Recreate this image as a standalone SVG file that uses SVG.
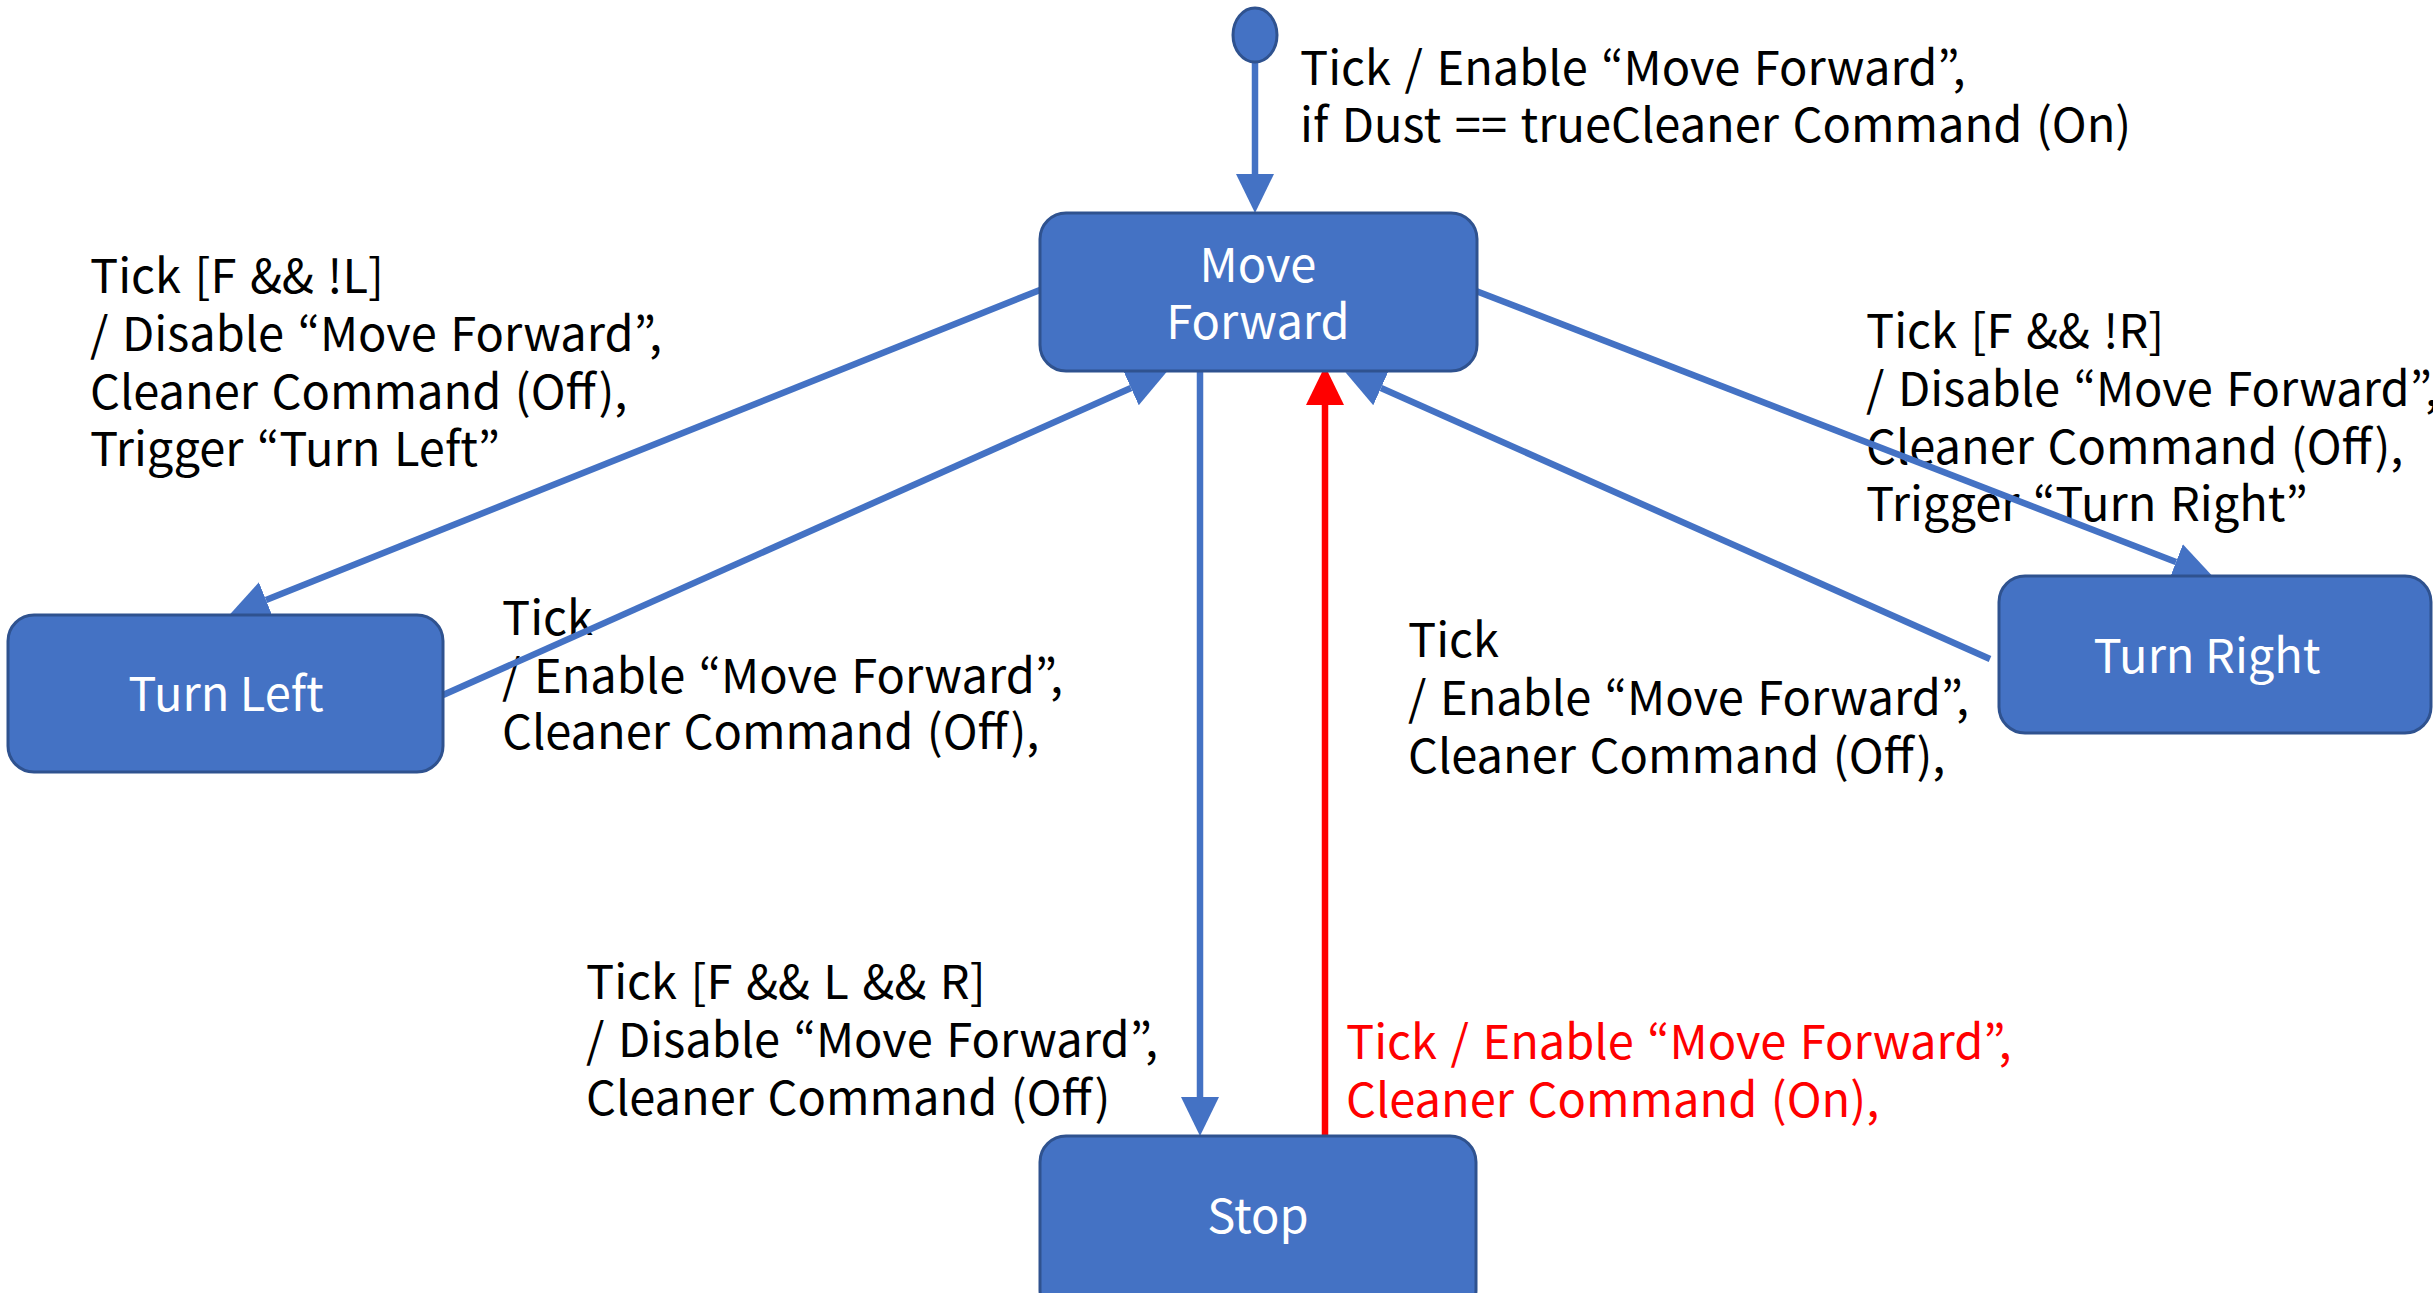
<svg xmlns="http://www.w3.org/2000/svg" width="2433" height="1293" viewBox="0 0 2433 1293">
<style>
.lbl{font-family:"Noto Sans CJK KR","Noto Sans",sans-serif;font-size:47px;word-spacing:3px;fill:#000}
.red{fill:#FF0000}
.node rect,.node ellipse{fill:#4472C4;stroke:#2F528F;stroke-width:3}
.ntxt{font-family:"Noto Sans CJK KR","Noto Sans",sans-serif;font-size:47px;fill:#fff;text-anchor:middle}
.edge{stroke:#4472C4;stroke-width:6.5;fill:none}
.edge.r{stroke:#FF0000}
</style>
<defs>
<marker id="ab" markerUnits="userSpaceOnUse" viewBox="0 -20 40 40" markerWidth="40" markerHeight="40" refX="0" refY="0" orient="auto"><path d="M0,-19 L39,0 L0,19 z" fill="#4472C4"/></marker>
<marker id="ar" markerUnits="userSpaceOnUse" viewBox="0 -20 40 40" markerWidth="40" markerHeight="40" refX="0" refY="0" orient="auto"><path d="M0,-19 L39,0 L0,19 z" fill="#FF0000"/></marker>
</defs>
<g id="labels">
<text class="lbl"><tspan x="1300" y="85">Tick / Enable “Move Forward”,</tspan><tspan x="1300" y="142">if Dust == trueCleaner Command (On)</tspan></text>
<text class="lbl"><tspan x="90" y="293">Tick [F &amp;&amp; !L]</tspan><tspan x="90" y="351">/ Disable “Move Forward”,</tspan><tspan x="90" y="409">Cleaner Command (Off),</tspan><tspan x="90" y="466">Trigger “Turn Left”</tspan></text>
<text class="lbl"><tspan x="502" y="635">Tick</tspan><tspan x="502" y="693">/ Enable “Move Forward”,</tspan><tspan x="502" y="749">Cleaner Command (Off),</tspan></text>
<text class="lbl"><tspan x="1866" y="348">Tick [F &amp;&amp; !R]</tspan><tspan x="1866" y="406">/ Disable “Move Forward”,</tspan><tspan x="1866" y="464">Cleaner Command (Off),</tspan><tspan x="1866" y="521">Trigger “Turn Right”</tspan></text>
<text class="lbl"><tspan x="1408" y="657">Tick</tspan><tspan x="1408" y="715">/ Enable “Move Forward”,</tspan><tspan x="1408" y="773">Cleaner Command (Off),</tspan></text>
<text class="lbl"><tspan x="586" y="999">Tick [F &amp;&amp; L &amp;&amp; R]</tspan><tspan x="586" y="1057">/ Disable “Move Forward”,</tspan><tspan x="586" y="1115">Cleaner Command (Off)</tspan></text>
<text class="lbl red"><tspan x="1346" y="1059">Tick / Enable “Move Forward”,</tspan><tspan x="1346" y="1117">Cleaner Command (On),</tspan></text>
</g>
<g id="connectors">
<path class="edge" d="M1255,62 L1255,174" marker-end="url(#ab)"/>
<path class="edge" d="M1040,290 L266,600" marker-end="url(#ab)"/>
<path class="edge" d="M443,695 L1131,388" marker-end="url(#ab)"/>
<path class="edge" d="M1476,291 L2176,562" marker-end="url(#ab)"/>
<path class="edge" d="M1990,659 L1381,388" marker-end="url(#ab)"/>
<path class="edge" d="M1200,371 L1200,1097" marker-end="url(#ab)"/>
<path class="edge r" d="M1325,1136 L1325,405" marker-end="url(#ar)"/>
</g>
<g id="initial" class="node"><ellipse cx="1255" cy="35" rx="22" ry="27"/></g>
<g id="move-forward" class="node"><rect x="1040" y="213" width="437" height="158" rx="26"/><text class="ntxt" x="1258" y="282">Move</text><text class="ntxt" x="1258" y="339">Forward</text></g>
<g id="turn-left" class="node"><rect x="8" y="615" width="435" height="157" rx="26"/><text class="ntxt" x="226" y="711">Turn Left</text></g>
<g id="turn-right" class="node"><rect x="1999" y="576" width="432" height="157" rx="26"/><text class="ntxt" x="2207" y="673">Turn Right</text></g>
<g id="stop" class="node"><rect x="1040" y="1136" width="436" height="180" rx="26"/><text class="ntxt" x="1258" y="1233">Stop</text></g>
</svg>
